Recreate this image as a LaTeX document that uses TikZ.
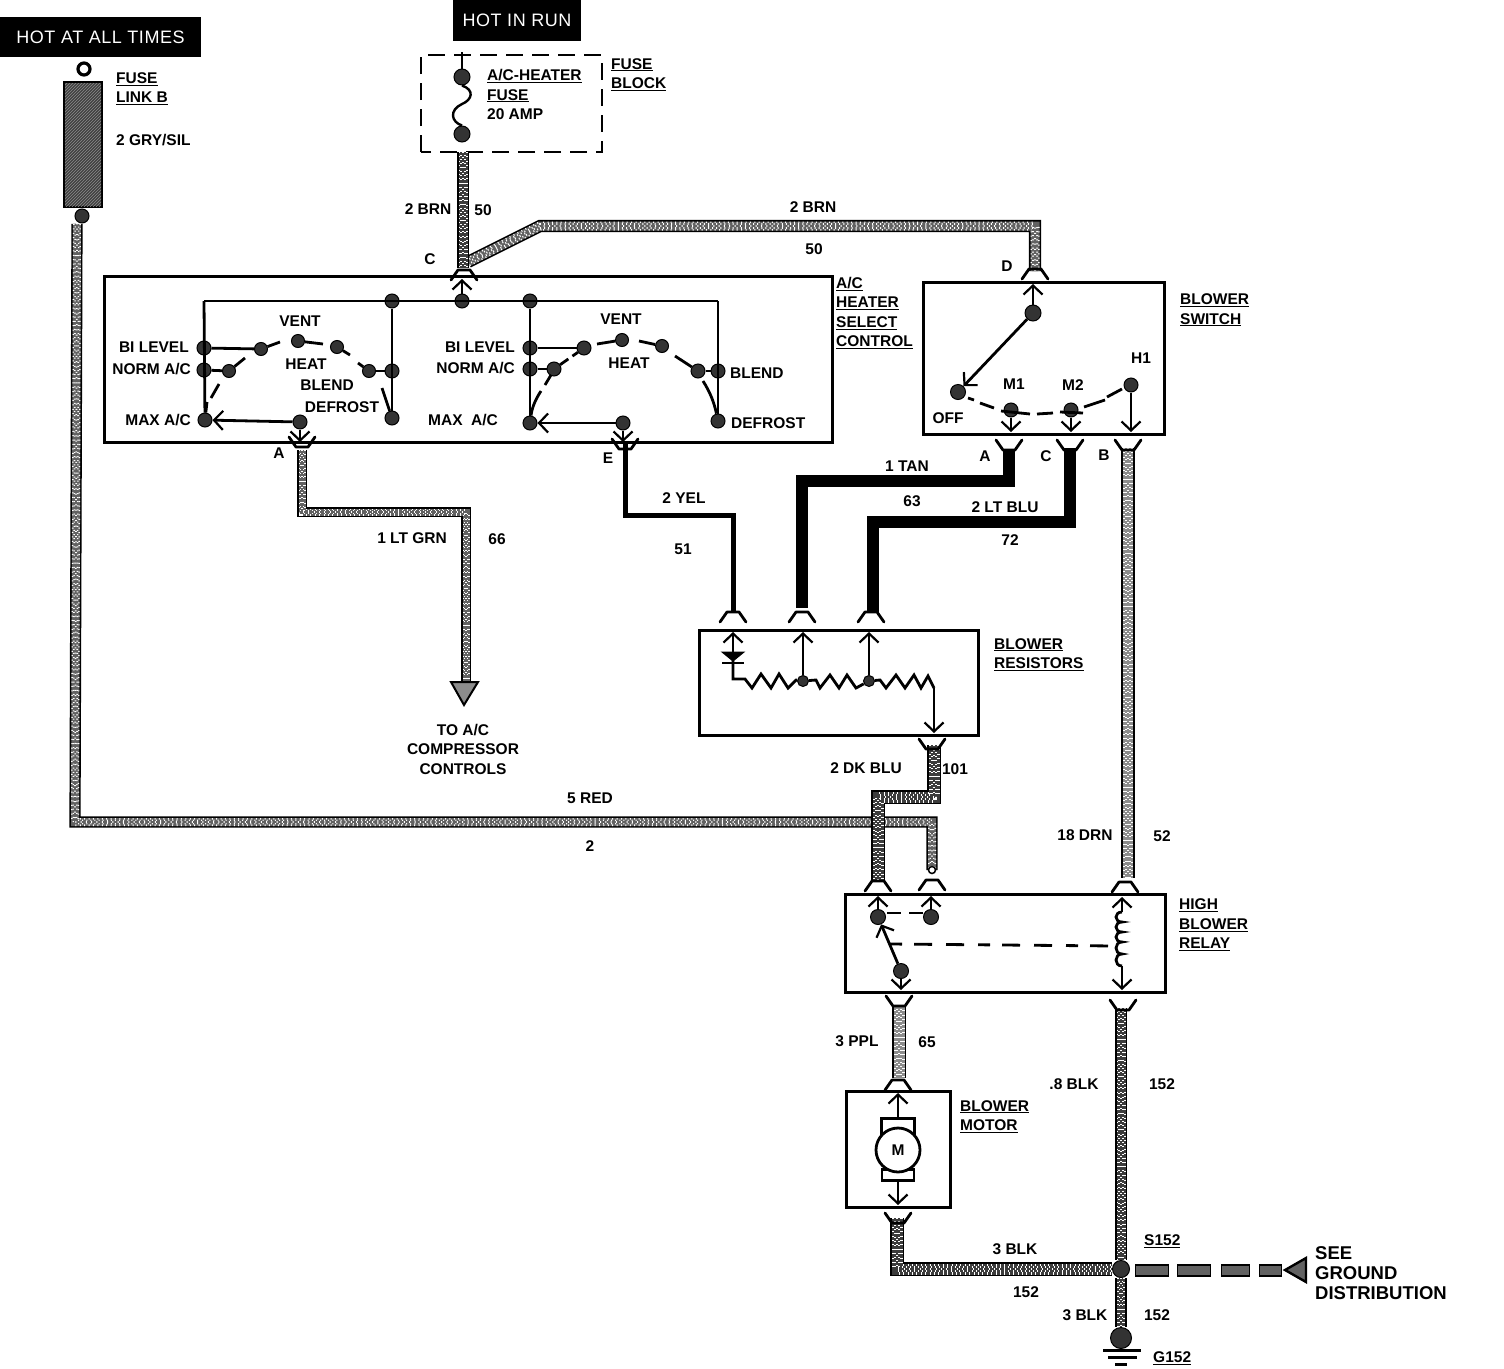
\documentclass[tikz,border=0pt]{standalone}
\usepackage{fontspec}
\setmainfont{Liberation Sans}
\usetikzlibrary{arrows.meta,patterns,calc}
\definecolor{wdark}{HTML}{3C3C3C}
\definecolor{wmid}{HTML}{626262}
\definecolor{wlight}{HTML}{8C8C8C}
\tikzset{
 lab/.style={font=\bfseries\fontsize{15.5}{19.5}\selectfont,inner sep=0pt,text=black},
 labl/.style={lab,anchor=west,align=left},
 labr/.style={lab,anchor=east,align=right},
 term/.style={circle,fill=black!80,draw=black,line width=1pt,minimum size=14pt,inner sep=0pt},
 tag/.style={fill=black,text=white,font=\addfontfeature{LetterSpace=3}\fontsize{18}{20}\selectfont,inner sep=0pt,minimum height=40pt},
 boxl/.style={draw=black,line width=3pt,fill=none},
 sw/.style={draw=black,line width=2.8pt,line cap=butt},
 barb/.style={-{Straight Barb[length=9pt,width=19pt,line width=2.2pt]}},
 wirebase/.style n args={2}{preaction={draw=black,line width=#2 pt+3.2pt},draw=#1,line width=#2 pt,
   postaction={draw=white,line width=#2 pt,dash pattern=on 1pt off 3.4pt},
   postaction={draw=#1,line width=0.62*#2 pt},
   postaction={draw=white,line width=0.62*#2 pt,dash pattern=on 1pt off 3.1pt,dash phase=1.6pt},
   postaction={draw=#1,line width=0.22*#2 pt},
   postaction={draw=white,line width=0.22*#2 pt,dash pattern=on 1pt off 4.3pt,dash phase=0.6pt}},
 wd/.style={wirebase={wdark}{#1}},
 wm/.style={wirebase={wmid}{#1}},
 wl/.style={wirebase={wlight}{#1}},
 wb/.style={draw=black,line width=#1},
 pics/forktop/.style={code={\draw[black,line width=2.8pt,line cap=round,line join=round] (-13,11) -- (-6,1) -- (6,1) -- (13,11);}},
 pics/forkbot/.style={code={\draw[black,line width=2.8pt,line cap=round,line join=round] (-13,-11) -- (-6,-1) -- (6,-1) -- (13,-11);}},
}
\newcommand{\ul}[1]{\underline{#1}}
\begin{document}
\begin{tikzpicture}[x=1pt,y=-1pt]
\useasboundingbox (0,0) rectangle (1504,1368);
% tags
\node[tag,minimum width=201pt] (hot1) at (100.5,37) {HOT AT ALL TIMES};
\node[tag,minimum width=128pt,minimum height=41pt] (hot2) at (517,20.5) {HOT IN RUN};
% boxes
\draw[boxl] (104,276) rectangle (832,442);
\draw[boxl] (923,282) rectangle (1164,434);
\draw[boxl] (699,630) rectangle (978,735);
\draw[boxl] (845,894) rectangle (1165,992);
\draw[boxl] (846,1091) rectangle (950,1207);
\draw[black,line width=2.8pt,dash pattern=on 17pt off 9pt] (421,152) -- (421,55) -- (602,55) -- (602,152) -- cycle;
% fuse link
\node[circle,draw=black,line width=3.2pt,minimum size=12pt,inner sep=0pt] (flo) at (84,69) {};
\node[draw=black,line width=2pt,fill=black!75,minimum width=38pt,minimum height=125pt,inner sep=0pt] (flink) at (83,144.5) {};
\fill[pattern=north east lines,pattern color=black!45] (65,83) rectangle (101,206);
\node[term] (fld) at (82,216) {};
% fuse
\node[term,minimum size=16pt] (fu1) at (462,77) {};
\node[term,minimum size=16pt] (fu2) at (462,134) {};
\coordinate (futop) at (462,52);
\draw[black,line width=2.2pt] (fu1) -- (futop);
\draw[black,line width=2.4pt] (fu1.south) .. controls (475,90) and (472,100) .. (462,104) .. controls (449,110) and (451,122) .. (fu2.north);
% wires
\coordinate (w50a) at (463,152);
\coordinate (w50b) at (463,268);
\coordinate (w50c) at (468,262);
\coordinate (w50d) at (540,226);
\coordinate (w50e) at (1035,226);
\coordinate (w50f) at (1035,271);
\path[wm=9] (w50c) -- (w50d) -- (w50e) -- (w50f);
\path[wd=9] (w50a) -- (w50b);
\coordinate (fa) at (77,224);
\coordinate (fb) at (75,822);
\coordinate (fc) at (932,822);
\coordinate (fd) at (932,870);
\path[wm=8] (fa) -- (fb) -- (fc) -- (fd);
\node[circle,draw=black,line width=1.5pt,fill=white,minimum size=7pt,inner sep=0pt] (fdot) at (fd) {};
\coordinate (k1) at (934,745);
\coordinate (k2) at (934,797);
\coordinate (k3) at (878,797);
\coordinate (k4) at (878,880);
\path[wd=11] (k1) -- (k2) -- (k3) -- (k4);
\coordinate (g1) at (302,450);
\coordinate (g2) at (302,512);
\coordinate (g3) at (466,512);
\coordinate (g4) at (466,684);
\path[wm=7] (g1) -- (g2) -- (g3) -- (g4);
\coordinate (t1) at (451,682);
\coordinate (t2) at (478,682);
\coordinate (t3) at (464,705);
\path[draw=black,line width=2pt,fill=wlight] (t1) -- (t2) -- (t3) -- cycle;
\coordinate (y1) at (625,442);
\coordinate (y2) at (625,515);
\coordinate (y3) at (733,515);
\coordinate (y4) at (733,612);
\path[wb=5pt] (y1) -- (y2) -- (y3) -- (y4);
\coordinate (a1) at (1009,450);
\coordinate (a2) at (1009,481);
\coordinate (a3) at (802,481);
\coordinate (a4) at (802,608);
\path[wb=12pt] (a1) -- (a2) -- (a3) -- (a4);
\coordinate (c1) at (1070,448);
\coordinate (c2) at (1070,522);
\coordinate (c3) at (873,522);
\coordinate (c4) at (873,612);
\path[wb=12pt] (c1) -- (c2) -- (c3) -- (c4);
\coordinate (b1) at (1128,448);
\coordinate (b2) at (1128,878);
\path[wl=10] (b1) -- (b2);
\coordinate (p1) at (899,1006);
\coordinate (p2) at (899,1078);
\path[wl=11] (p1) -- (p2);
\coordinate (r1) at (1121,1008);
\node[term,minimum size=17pt] (s152) at (1121,1269) {};
\path[wd=9] (r1) -- (s152);
\node[term,minimum size=21pt] (g152) at (1121,1338) {};
\path[wd=8] (s152) -- (g152);
\coordinate (m1) at (897,1218);
\coordinate (m2) at (897,1269);
\path[wd=11] (m1) -- (m2) -- (s152);
\coordinate (d1) at (1135,1270);
\coordinate (d2) at (1284,1270);
\path[draw=black,line width=13pt,dash pattern=on 34pt off 8pt on 34pt off 10pt on 29pt off 9pt on 23pt off 3pt] (d1) -- (d2);
\path[draw=wmid,line width=9pt,dash pattern=on 32pt off 10pt on 32pt off 12pt on 27pt off 11pt on 21pt off 5pt] ($(d1)+(1,0)$) -- (d2);
\coordinate (q1) at (1285,1270);
\coordinate (q2) at (1306,1258);
\coordinate (q3) at (1306,1282);
\path[draw=black,line width=2.4pt,fill=wmid] (q1) -- (q2) -- (q3) -- cycle;
% ground
\coordinate (g1a) at (1103,1350); \coordinate (g1b) at (1141,1350);
\coordinate (g2a) at (1108,1357); \coordinate (g2b) at (1137,1357);
\coordinate (g3a) at (1115,1364); \coordinate (g3b) at (1127,1364);
\draw[black,line width=3pt] (g1a) -- (g1b);
\draw[black,line width=3pt] (g2a) -- (g2b);
\draw[black,line width=3pt] (g3a) -- (g3b);
% forks
\pic at (464,269) {forktop};
\pic at (1035,268) {forktop};
\pic at (733,611) {forktop};
\pic at (802,611) {forktop};
\pic at (871,611) {forktop};
\pic at (878,880) {forktop};
\pic at (932,879) {forktop};
\pic at (1125,881) {forktop};
\pic at (898,1079) {forktop};
\pic at (302,448) {forkbot};
\pic at (625,450) {forkbot};
\pic at (1009,451) {forkbot};
\pic at (1070,451) {forkbot};
\pic at (1128,451) {forkbot};
\pic at (932,750) {forkbot};
\pic at (899,1007) {forkbot};
\pic at (1123,1011) {forkbot};
\pic at (898,1224) {forkbot};
% A/C control left
\node[term] (L1) at (392,301) {};
\node[term] (C0) at (462,301) {};
\node[term] (R0) at (530,301) {};
\coordinate (LT) at (204,301);
\coordinate (RT) at (718,301);
\coordinate (C0u) at (462,279);
\draw[sw] (LT) -- (RT);
\draw[sw,barb] (C0) -- (C0u);
\node[term] (Lb) at (204,348) {};
\node[term] (Ln) at (204,370) {};
\node[term] (Lm) at (205,420) {};
\node[term,minimum size=13pt] (Lb2) at (261,349) {};
\node[term,minimum size=13pt] (Ln2) at (229,371) {};
\node[term,minimum size=13pt] (Lv) at (298,341) {};
\node[term,minimum size=13pt] (Lh) at (337,347) {};
\node[term,minimum size=13pt] (Lbl) at (369,371) {};
\node[term,minimum size=14pt] (Lbr) at (392,371) {};
\node[term,minimum size=14pt] (Ld) at (392,418) {};
\node[term] (La) at (300,422) {};
\draw[sw] (LT) -- (Lm);
\draw[sw] (L1) -- (Ld);
\draw[sw] (Lb) -- (Lb2);
\draw[sw] (Ln) -- (Ln2);
\draw[sw] (Lbl) -- (Lbr);
\draw[sw,barb] (La) -- (Lm);
\draw[sw,barb] (La) -- (300,442);
\draw[sw] (Lb2) -- (280,342);
\draw[sw] (Lv) -- (323,344);
\draw[sw] (Lh) -- (350,355);
\draw[sw] (358,363) -- (Lbl);
\draw[sw] (Ln2) -- (245,358);
\draw[sw] (219,384) -- (211,398);
\draw[sw] (207,402) -- (Lm);
\draw[sw] (382,388) -- (Ld);
% A/C control right
\node[term] (Rb) at (530,348) {};
\node[term] (Rn) at (530,369) {};
\node[term] (Rm) at (530,423) {};
\node[term] (Rb2) at (584,348) {};
\node[term] (Rn2) at (554,369) {};
\node[term,minimum size=13pt] (Rv) at (622,340) {};
\node[term,minimum size=13pt] (Rh) at (662,346) {};
\node[term] (Rbl) at (698,371) {};
\node[term] (Rbr) at (718,371) {};
\node[term] (Rd) at (718,421) {};
\node[term] (Re) at (623,423) {};
\draw[sw] (R0) -- (Rm);
\draw[sw] (RT) -- (Rd);
\draw[sw] (Rb) -- (Rb2);
\draw[sw] (Rn) -- (Rn2);
\draw[sw] (Rbl) -- (Rbr);
\draw[sw,barb] (Re) -- (Rm);
\draw[sw,barb] (Re) -- (623,442);
\draw[sw,dash pattern=on 10pt off 5pt] (Rn2) -- (Rb2);
\draw[sw] (597,344) -- (Rv);
\draw[sw] (639,341) -- (Rh);
\draw[sw] (675,356) -- (Rbl);
\draw[sw] (703,381) .. controls (710,392) and (714,402) .. (Rd);
\draw[sw] (551,375) -- (545,385);
\draw[sw] (541,391) .. controls (535,400) and (532,408) .. (Rm);
% blower switch
\node[term,minimum size=16pt] (Bd) at (1033,313) {};
\node[term,minimum size=15pt] (Boff) at (958,392) {};
\node[term] (Bm1) at (1011,410) {};
\node[term] (Bm2) at (1071,410) {};
\node[term] (Bh) at (1131,385) {};
\draw[sw,barb] (Bd) -- (1033,284);
\draw[sw,barb] (Bd) -- (Boff);
\draw[sw,barb] (Bm1) -- (1011,432);
\draw[sw,barb] (Bm2) -- (1071,432);
\draw[sw,barb] (Bh) -- (1131,432);
\draw[sw] (968,398) -- (974,400);
\draw[sw] (980,403) -- (994,408);
\draw[sw] (1001,411) -- (1030,414);
\draw[sw] (1037,414) -- (1053,413);
\draw[sw] (1060,412) -- (1083,413);
\draw[sw] (1084,407) -- (1105,400);
\draw[sw] (1107,397) -- (1122,389);
% resistors
\coordinate (ru1) at (733,632);
\coordinate (ru2) at (803,632);
\coordinate (ru3) at (869,632);
\coordinate (dio) at (733,652);
\coordinate (rs) at (733,679);
\node[term,minimum size=11pt] (rd1) at (803,681) {};
\node[term,minimum size=11pt] (rd2) at (869,681) {};
\coordinate (re) at (934,688);
\coordinate (rb) at (934,733);
\draw[sw,barb] (dio) -- (ru1);
\draw[sw,barb] (rd1) -- (ru2);
\draw[sw,barb] (rd2) -- (ru3);
\draw[sw] (dio) -- (rs) -- (745,679) -- (752,688) -- (761,674) -- (771,688) -- (779,674) -- (788,688) -- (796,680) -- (rd1);
\draw[sw] (rd1) -- (816,680) -- (820,688) -- (830,675) -- (839,688) -- (847,675) -- (856,688) -- (rd2);
\draw[sw] (rd2) -- (880,680) -- (886,688) -- (896,675) -- (905,688) -- (914,675) -- (921,688) -- (928,676) -- (re);
\draw[sw,barb] (re) -- (rb);
\coordinate (dl) at (722,652); \coordinate (dr) at (744,652); \coordinate (dt) at (733,661);
\path[draw=black,fill=black,line width=1pt] (dl) -- (dr) -- (dt) -- cycle;
\coordinate (bl) at (722,663); \coordinate (br) at (744,663);
\draw[black,line width=2.6pt] (bl) -- (br);
% relay
\node[term,minimum size=15pt] (H1) at (878,917) {};
\node[term,minimum size=15pt] (H2) at (931,917) {};
\node[term,minimum size=15pt] (H3) at (901,971) {};
\draw[sw,barb] (H1) -- (878,896);
\draw[sw,barb] (H2) -- (931,896);
\draw[sw,barb] (H3) -- (901,990);
\draw[sw,barb] (H3) -- (H1);
\coordinate (hd1) at (887,913);
\coordinate (hd2) at (923,913);
\draw[sw,dash pattern=on 14pt off 8pt] (hd1) -- (hd2);
\coordinate (cd1) at (890,944);
\coordinate (cd2) at (1116,946);
\draw[sw,dash pattern=on 12pt off 12pt on 18pt off 14pt on 18pt off 14pt] (cd1) -- (cd2);
\coordinate (co1) at (1122,897);
\coordinate (co2) at (1122,990);
\coordinate (co3) at (1122,912);
\coordinate (co4) at (1122,966);
\draw[sw,barb] (co3) -- (co1);
\draw[sw,barb] (co4) -- (co2);
\draw[sw] (co3) .. controls (1114,912) and (1114,922) .. (1122,922) .. controls (1114,922) and (1114,932) .. (1122,932) .. controls (1114,932) and (1114,942) .. (1122,942) .. controls (1114,942) and (1114,954) .. (1122,954) .. controls (1114,954) and (1114,966) .. (co4);
% motor
\node[draw=black,line width=2.8pt,minimum width=33pt,minimum height=17pt,inner sep=0pt] (brt) at (898,1127) {};
\node[draw=black,line width=2.8pt,minimum width=32pt,minimum height=11pt,inner sep=0pt] (brb) at (898,1175) {};
\node[circle,draw=black,line width=2.8pt,fill=white,minimum size=44pt,inner sep=0pt,lab] (mot) at (898,1150) {M};
\coordinate (mu) at (898,1093);
\coordinate (md) at (898,1205);
\draw[sw,barb] (brt.north) -- (mu);
\draw[sw,barb] (brb.south) -- (md);
% labels
\node[labl] (l1) at (116,88.5) {\ul{FUSE}\\\ul{LINK B}};
\node[labl] (l2) at (116,140) {2 GRY/SIL};
\node[labl] (l3) at (487,94.5) {\ul{A/C-HEATER}\\\ul{FUSE}\\20 AMP};
\node[labl] (l4) at (611,74.5) {\ul{FUSE}\\\ul{BLOCK}};
\node[lab] (l5) at (428,209) {2 BRN};
\node[lab] (l6) at (483,210) {50};
\node[lab] (l7) at (813,207) {2 BRN};
\node[lab] (l8) at (814,249) {50};
\node[lab] (l9) at (430,259) {C};
\node[lab] (l10) at (1007,266) {D};
\node[labl] (l11) at (836,313) {\ul{A/C}\\\ul{HEATER}\\\ul{SELECT}\\\ul{CONTROL}};
\node[labl] (l12) at (1180,310) {\ul{BLOWER}\\\ul{SWITCH}};
\node[lab] (l13) at (300,321) {VENT};
\node[labr] (l14) at (189,347) {BI LEVEL};
\node[labr] (l15) at (191,369) {NORM A/C};
\node[labr] (l16) at (191,420) {MAX A/C};
\node[lab] (l17) at (306,364) {HEAT};
\node[lab] (l18) at (327,385) {BLEND};
\node[lab] (l19) at (342,407) {DEFROST};
\node[lab] (l20) at (621,319) {VENT};
\node[labr] (l21) at (515,347) {BI LEVEL};
\node[labr] (l22) at (515,368) {NORM A/C};
\node[labl] (l23) at (428,420) {MAX\ \ A/C};
\node[lab] (l24) at (629,363) {HEAT};
\node[labl] (l25) at (730,373) {BLEND};
\node[labl] (l26) at (731,423) {DEFROST};
\node[lab] (l27) at (279,453) {A};
\node[lab] (l28) at (608,458) {E};
\node[lab] (l29) at (948,418) {OFF};
\node[lab] (l30) at (1014,384) {M1};
\node[lab] (l31) at (1073,385) {M2};
\node[lab] (l32) at (1141,358) {H1};
\node[lab] (l33) at (985,456) {A};
\node[lab] (l34) at (1046,456) {C};
\node[lab] (l35) at (1104,455) {B};
\node[lab] (l36) at (907,466) {1 TAN};
\node[lab] (l37) at (912,501) {63};
\node[lab] (l38) at (1005,507) {2 LT BLU};
\node[lab] (l39) at (1010,540) {72};
\node[lab] (l40) at (684,498) {2 YEL};
\node[lab] (l41) at (683,549) {51};
\node[lab] (l42) at (412,538) {1 LT GRN};
\node[lab] (l43) at (497,539) {66};
\node[lab,align=center] (l44) at (463,749) {TO A/C\\COMPRESSOR\\CONTROLS};
\node[labl] (l45) at (994,654.5) {\ul{BLOWER}\\\ul{RESISTORS}};
\node[lab] (l46) at (866,768) {2 DK BLU};
\node[lab] (l47) at (955,769) {101};
\node[lab] (l48) at (590,798) {5 RED};
\node[lab] (l49) at (590,846) {2};
\node[lab] (l50) at (1085,835) {18 DRN};
\node[lab] (l51) at (1162,836) {52};
\node[labl] (l52) at (1179,925) {\ul{HIGH}\\\ul{BLOWER}\\\ul{RELAY}};
\node[lab] (l53) at (857,1041) {3 PPL};
\node[lab] (l54) at (927,1042) {65};
\node[lab] (l55) at (1074,1084) {.8 BLK};
\node[lab] (l56) at (1162,1084) {152};
\node[labl] (l57) at (960,1116.5) {\ul{BLOWER}\\\ul{MOTOR}};
\node[lab] (l58) at (1015,1249) {3 BLK};
\node[lab] (l59) at (1026,1292) {152};
\node[labl] (l60) at (1144,1241) {\ul{S152}};
\node[labl,font=\bfseries\fontsize{18.5}{20}\selectfont] (l61) at (1315,1273) {SEE\\GROUND\\DISTRIBUTION};
\node[lab] (l62) at (1085,1315) {3 BLK};
\node[lab] (l63) at (1157,1315) {152};
\node[labl] (l64) at (1153,1358) {\ul{G152}};
\end{tikzpicture}
\end{document}
